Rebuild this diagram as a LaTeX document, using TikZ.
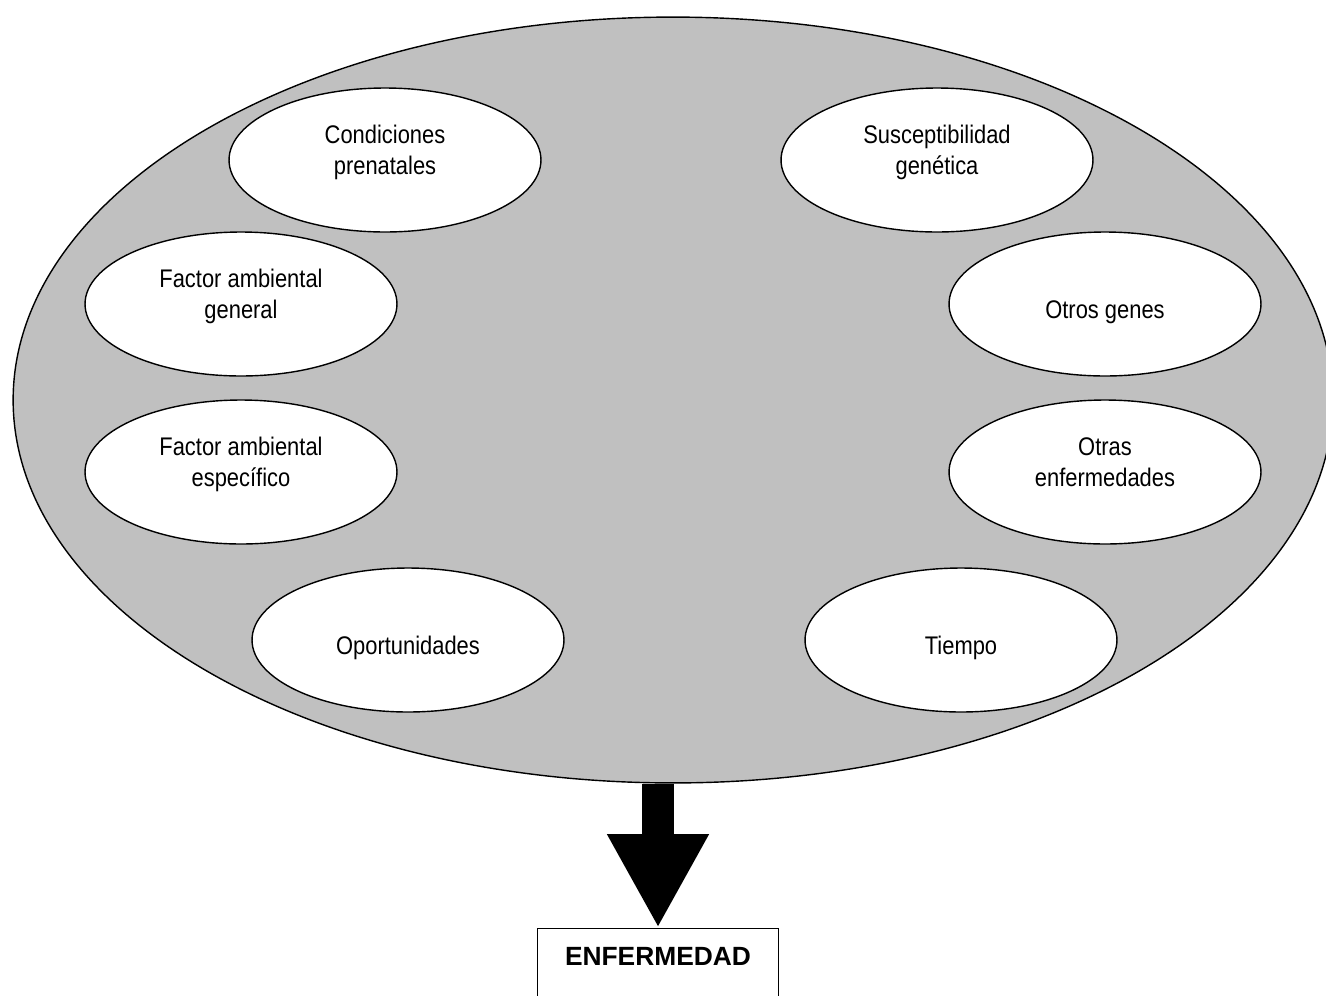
\documentclass[tikz,border=0pt]{standalone}
\usepackage{fontspec}
\setmainfont{Liberation Sans}[FakeStretch=0.86]
\newfontfamily\boldfont{Liberation Sans}
\usetikzlibrary{shapes.geometric, arrows.meta}
\definecolor{silver}{HTML}{C0C0C0}

\begin{document}
\begin{tikzpicture}[
    x=0.02cm, y=-0.02cm,
    outer/.style={ellipse, minimum width=26.4cm, minimum height=15.32cm, inner sep=0pt, draw=black, line width=0.8pt, fill=silver},
    factor/.style={ellipse, minimum width=6.24cm, minimum height=2.88cm, inner sep=0pt, draw=black, line width=0.8pt, fill=white, align=center, text height=0.6cm, text depth=0.04cm, font=\fontsize{14.5}{17.6}\selectfont},
    result/.style={rectangle, minimum width=4.82cm, inner xsep=0pt, inner ysep=0.35cm, text height=0.38cm, text depth=1cm, draw=black, line width=0.8pt, fill=white, font=\boldfont\bfseries\fontsize{15}{18}\selectfont},
    arrow/.style={line width=0.64cm, -{Triangle[length=1.88cm, width=1.9cm]}}
]
\useasboundingbox (0,0) rectangle (1326,995);

\node (cuadro) [outer] at (673,400) {};

\node (prenat) [factor] at (385,160) {Condiciones\\prenatales};
\node (suscep) [factor] at (937,160) {Susceptibilidad\\genética};
\node (ambgen) [factor] at (241,304) {Factor ambiental\\general};
\node (genes) [factor] at (1105,304) {Otros genes};
\node (ambesp) [factor] at (241,472) {Factor ambiental\\específico};
\node (otras) [factor] at (1105,472) {Otras\\enfermedades};
\node (oport) [factor] at (408,640) {Oportunidades};
\node (tiempo) [factor] at (961,640) {Tiempo};

\node (enf) [result, anchor=north] at (658,928) {ENFERMEDAD};

\draw [arrow] (enf.north |- cuadro.south) -- (enf.north);
\end{tikzpicture}
\end{document}
